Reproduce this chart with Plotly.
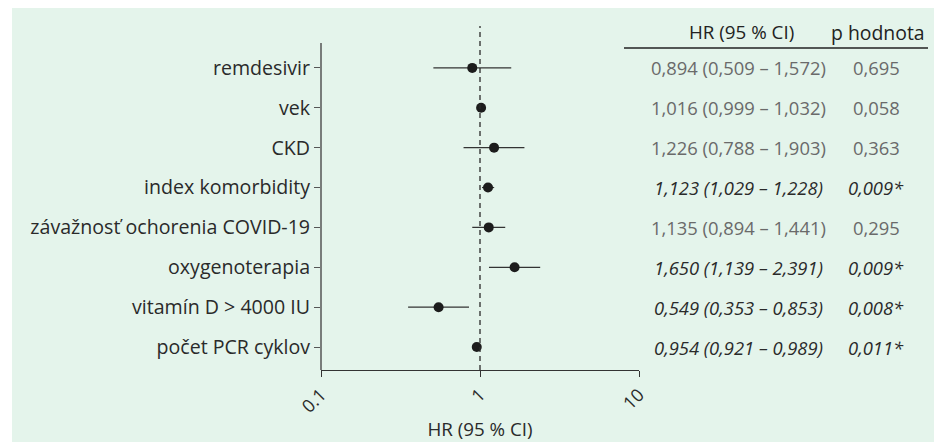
import plotly.graph_objects as go

labels = ["remdesivir", "vek", "CKD", "index komorbidity",
          "závažnosť ochorenia COVID-19", "oxygenoterapia",
          "vitamín D > 4000 IU", "počet PCR cyklov"]
hr = [0.894, 1.016, 1.226, 1.123, 1.135, 1.650, 0.549, 0.954]
ci_lo = [0.509, 0.999, 0.788, 1.029, 0.894, 1.139, 0.353, 0.921]
ci_hi = [1.572, 1.032, 1.903, 1.228, 1.441, 2.391, 0.853, 0.989]
hr_text = ["0,894 (0,509 – 1,572)", "1,016 (0,999 – 1,032)", "1,226 (0,788 – 1,903)",
           "1,123 (1,029 – 1,228)", "1,135 (0,894 – 1,441)", "1,650 (1,139 – 2,391)",
           "0,549 (0,353 – 0,853)", "0,954 (0,921 – 0,989)"]
p_text = ["0,695", "0,058", "0,363", "0,009*", "0,295", "0,009*", "0,008*", "0,011*"]
significant = [False, False, False, True, False, True, True, True]
x_ticks = [0.1, 1, 10]
x_ticklabels = ["0.1", "1", "10"]

FONT = "Open Sans"
OFF = 8  # page body margin
W, H = 942 - OFF, 442 - OFF
# screen coordinates of the plot area
SL, SR, ST, SB = 321, 639, 26, 370
L = SL - OFF
R_ = W - (SR - OFF)
T = ST - OFF
B = H - (SB - OFF)
pw = SR - SL
ph = SB - ST

def px2paper_x(px):
    return (px - SL) / pw

def px2paper_y(py):
    return (SB - py) / ph

rows = list(range(len(labels)))

fig = go.Figure()
fig.add_trace(go.Scatter(
    x=hr, y=rows, mode="markers",
    marker=dict(size=10, color="#1c1c1c"),
    error_x=dict(type="data", symmetric=False,
                 array=[h - m for h, m in zip(ci_hi, hr)],
                 arrayminus=[m - l for m, l in zip(hr, ci_lo)],
                 width=0, thickness=1.2, color="#333333"),
    showlegend=False, hoverinfo="skip"))

shapes = []
shapes.append(dict(type="rect", xref="paper", yref="paper",
                   x0=px2paper_x(12), x1=px2paper_x(937),
                   y0=px2paper_y(450), y1=px2paper_y(7),
                   fillcolor="#e4f4eb", line=dict(width=0), layer="below"))
shapes.append(dict(type="line", xref="x", yref="paper", x0=1, x1=1, y0=0, y1=1,
                   line=dict(color="#2a2a2a", width=1.3, dash="5px,4px")))
shapes.append(dict(type="line", xref="paper", yref="paper", x0=0, x1=0,
                   y0=0, y1=px2paper_y(43), line=dict(color="#555555", width=1.5)))
shapes.append(dict(type="line", xref="paper", yref="paper",
                   x0=px2paper_x(624), x1=px2paper_x(928),
                   y0=px2paper_y(48), y1=px2paper_y(48),
                   line=dict(color="#222222", width=1.3)))

TS = 18.4
HS = 18.8
annotations = []
hx = px2paper_x(738)
pxx = px2paper_x(876)
annotations.append(dict(text="HR (95 % CI)", xref="paper", yref="paper",
                        x=px2paper_x(741), y=px2paper_y(32), showarrow=False,
                        xanchor="center", yanchor="middle",
                        font=dict(family=FONT, size=HS, color="#222222")))
annotations.append(dict(text="p hodnota", xref="paper", yref="paper",
                        x=px2paper_x(878), y=px2paper_y(32), showarrow=False,
                        xanchor="center", yanchor="middle",
                        font=dict(family=FONT, size=HS + 0.6, color="#222222")))
for i, (t, p, s) in enumerate(zip(hr_text, p_text, significant)):
    if s:
        tt, pp, col = "<i>" + t + "</i>", "<i>" + p + "</i>", "#2a2a2a"
    else:
        tt, pp, col = t, p, "#6a6a6a"
    annotations.append(dict(text=tt, xref="paper", yref="y", x=hx, y=i,
                            showarrow=False, xanchor="center", yanchor="middle",
                            font=dict(family=FONT, size=TS, color=col)))
    annotations.append(dict(text=pp, xref="paper", yref="y", x=pxx, y=i,
                            showarrow=False, xanchor="center", yanchor="middle",
                            font=dict(family=FONT, size=TS, color=col)))

fig.update_layout(
    width=W, height=H,
    margin=dict(l=L, r=R_, t=T, b=B, pad=0, autoexpand=False),
    paper_bgcolor="white", plot_bgcolor="rgba(0,0,0,0)",
    shapes=shapes, annotations=annotations,
    font=dict(family=FONT, color="#2a2a2a"),
    xaxis=dict(type="log", range=[-1, 1], tickvals=x_ticks, ticktext=x_ticklabels,
               tickangle=-45, ticks="outside", ticklen=6, tickcolor="#333333",
               showline=True, linecolor="#333333", linewidth=1.3,
               showgrid=False, zeroline=False, automargin=False,
               tickfont=dict(family=FONT, size=18, color="#2a2a2a"),
               title=dict(text="HR (95 % CI)", standoff=6,
                          font=dict(family=FONT, size=18.8, color="#2a2a2a"))),
    yaxis=dict(range=[7.575, -1.05], tickvals=rows, ticktext=labels,
               ticks="outside", ticklen=6, tickcolor="#555555", tickwidth=1.3,
               showline=False, showgrid=False, zeroline=False, automargin=False,
               tickfont=dict(family=FONT, size=19.6, color="#2a2a2a")),
)

fig.write_html("out.html")
